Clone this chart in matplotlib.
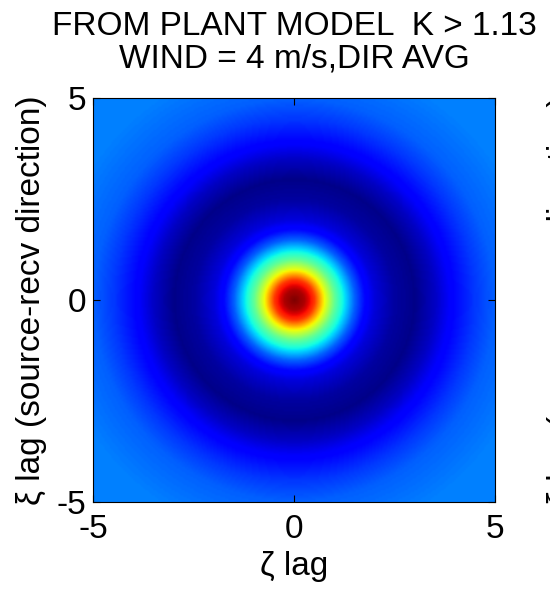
import numpy as np
import matplotlib
matplotlib.use('Agg')
import matplotlib.pyplot as plt

# Radial profile of the correlation surface
# (lag radius in units, normalised level 0..1)
radius = [0.0, 0.25, 0.5, 0.75, 1.0, 1.25, 1.5, 1.75, 2.0, 2.5, 3.0, 3.5, 4.0, 4.5, 5.0, 6.0, 7.2]
level  = [1.0, 0.96, 0.85, 0.64, 0.47, 0.35, 0.22, 0.13, 0.08, 0.03, 0.01, 0.06, 0.13, 0.18, 0.22, 0.25, 0.25]

ticks       = [-5, 0, 5]
tick_labels = ['-5', '0', '5']

title  = 'FROM PLANT MODEL  K > 1.13\nWIND = 4 m/s,DIR AVG'
xlabel = '\u03b6 lag'
ylabel = '\u03be lag (source-recv direction)'

plt.rcParams['font.family'] = ['Liberation Sans', 'DejaVu Sans']
fs = 24

lags = np.linspace(-5, 5, 241)
X, Y = np.meshgrid(lags, lags)
Z = np.interp(np.hypot(X, Y), radius, level)

fig = plt.figure(figsize=(5.5, 5.93), dpi=100)
ax = fig.add_axes([0.169, 0.1535, 0.731, 0.681])
ax.imshow(Z, extent=[-5, 5, -5, 5], origin='lower', cmap='jet',
          vmin=0, vmax=1, interpolation='bilinear', aspect='auto')

ax.set_xticks(ticks)
ax.set_xticklabels(tick_labels)
ax.set_yticks(ticks)
ax.set_yticklabels(tick_labels)
ax.tick_params(direction='in', length=5, width=0.8, labelsize=fs,
               top=True, right=True, pad=5)
ax.tick_params(axis='x', pad=9)
for s in ax.spines.values():
    s.set_linewidth(0.8)

ax.set_xlabel(xlabel, fontsize=fs, labelpad=4)
ax.set_ylabel(ylabel, fontsize=fs, labelpad=7)
ax.set_title(title, fontsize=fs, pad=22, linespacing=1.08)

# neighbouring panel's label, clipped by the figure edge
fig.text(547 / 550, 1 - 300 / 593, ylabel, rotation=90, fontsize=fs,
         ha='left', va='center')

fig.savefig('out.png', dpi=100)
